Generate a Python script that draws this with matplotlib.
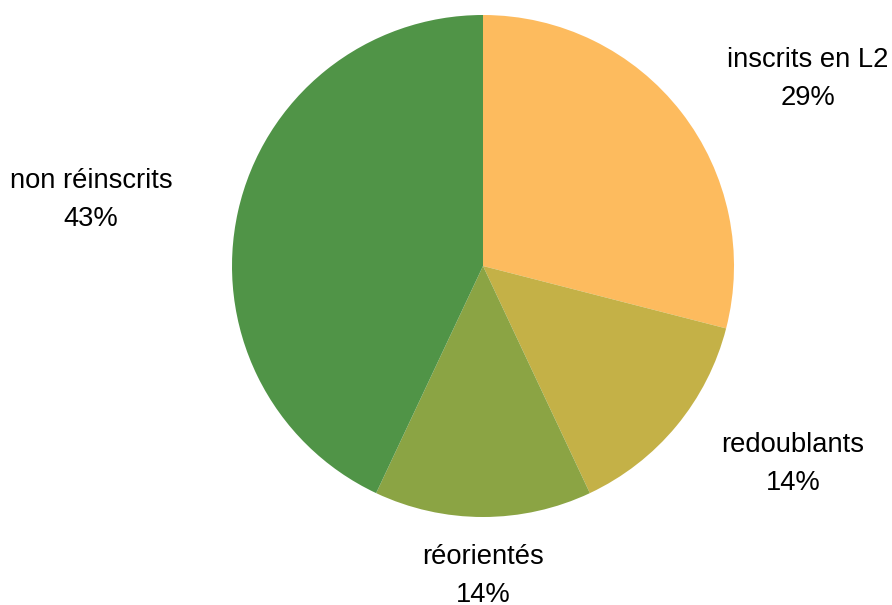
import matplotlib.pyplot as plt

plt.rcParams['font.family'] = ['Liberation Sans', 'DejaVu Sans']

# données
categories = ["inscrits en L2", "redoublants", "réorientés", "non réinscrits"]
valeurs = [29, 14, 14, 43]
couleurs = ["#FDBB5E", "#C4B147", "#8BA444", "#509447"]

# position des étiquettes (pixels image)
pos_etiq = [(808, 79), (793, 464), (483, 576), (91, 200)]

W, H = 892, 605
fig = plt.figure(figsize=(W / 100, H / 100), dpi=100)
ax = fig.add_axes([0, 0, 1, 1])

ax.pie(valeurs, colors=couleurs, startangle=90, counterclock=False,
       center=(483, H - 266), radius=251,
       wedgeprops=dict(linewidth=0))

# limites après pie (pie les remet à zéro)
ax.set_xlim(0, W)
ax.set_ylim(0, H)
ax.set_aspect('equal')
ax.axis('off')

total = sum(valeurs)
for cat, v, (x, y) in zip(categories, valeurs, pos_etiq):
    ax.text(x, H - y, f"{cat}\n{round(100 * v / total)}%",
            ha='center', va='center', fontsize=19.7, linespacing=1.58,
            color='black')

fig.savefig("out.png", dpi=100)
